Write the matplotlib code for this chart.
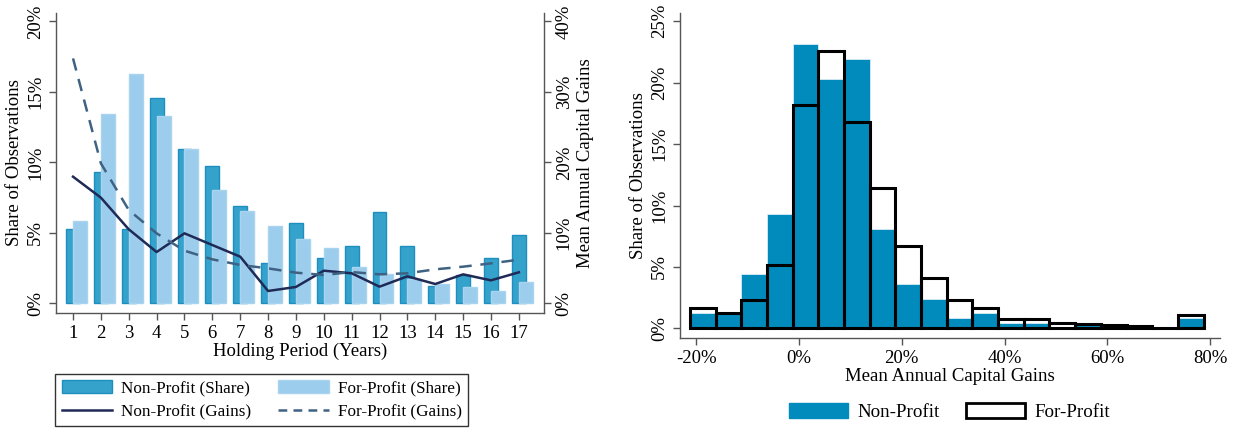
import numpy as np
import matplotlib
matplotlib.use("Agg")
import matplotlib.pyplot as plt
from matplotlib.patches import Patch
from matplotlib.lines import Line2D
from matplotlib.ticker import FuncFormatter

plt.rcParams['font.family'] = ['Liberation Serif', 'DejaVu Serif']
plt.rcParams['font.size'] = 13

# ---- Holding period panel data (percent) ----
years = list(range(1, 18))
np_share = [5.27, 9.31, 5.27, 14.59, 10.92, 9.74, 6.88, 2.84, 5.70, 3.24,
            4.07, 6.48, 4.07, 1.23, 2.0, 3.24, 4.85]
fp_share = [5.86, 13.45, 16.26, 13.31, 10.92, 8.06, 6.57, 5.48, 4.59, 3.92,
            2.58, 2.08, 1.70, 1.39, 1.18, 0.87, 1.51]
np_gains = [17.97, 14.99, 10.50, 7.28, 9.93, 8.27, 6.62, 1.75, 2.32, 4.63,
            4.26, 2.36, 3.83, 2.74, 4.11, 3.26, 4.40]
fp_gains = [34.75, 19.86, 13.24, 9.93, 7.47, 6.24, 5.44, 4.96, 4.35, 4.02,
            4.44, 4.11, 4.26, 4.82, 5.20, 5.67, 6.19]

# ---- Capital gains distribution panel data (percent) ----
bin_centers = [-18.75, -13.75, -8.75, -3.75, 1.25, 6.25, 11.25, 16.25, 21.25, 26.25,
               31.25, 36.25, 41.25, 46.25, 51.25, 56.25, 61.25, 66.25, 71.25, 76.25]
np_hist = [1.22, 1.22, 4.42, 9.31, 23.15, 20.30, 21.93, 8.09, 3.64, 2.39,
           0.81, 1.22, 0.41, 0.41, 0.08, 0.27, 0.13, 0.10, 0.02, 0.81]
fp_hist = [1.66, 1.22, 2.31, 5.16, 18.21, 22.56, 16.78, 11.40, 6.70, 4.13,
           2.33, 1.63, 0.73, 0.73, 0.41, 0.35, 0.24, 0.19, 0.05, 1.09]

C_DARK = '#35A2CC'
C_DARK_EDGE = '#1C8FC0'
C_LIGHT = '#9DCDED'
C_LIGHT_EDGE = '#A9D4EF'
C_NAVY = '#1F2A56'
C_STEEL = '#3F6283'
C_EB = '#008BBC'
SPINE = '#555555'
TICK_FS = 13.5
LABEL_FS = 13.5

pct = FuncFormatter(lambda v, p: f"{v:.0f}%")

fig = plt.figure(figsize=(12.41, 4.44), dpi=100)


def style_axis(ax, sides):
    for s in ['top', 'right', 'left', 'bottom']:
        ax.spines[s].set_visible(s in sides)
        ax.spines[s].set_color(SPINE)
        ax.spines[s].set_linewidth(1.0)
    ax.tick_params(colors='black', length=5, width=1.0, color=SPINE, labelsize=TICK_FS)


def rotate_yticks(ax):
    for lab in ax.get_yticklabels():
        lab.set_rotation(90)
        lab.set_va('center')


# ---- Left panel: shares by holding period with mean gains ----
ax1 = fig.add_axes([0.0449, 0.2957, 0.3934, 0.6757])
yrs = np.array(years)
ax1.bar(yrs, np_share, width=0.5, color=C_DARK, edgecolor=C_DARK_EDGE, linewidth=1.0, zorder=2)
ax1.bar(yrs + 0.25, fp_share, width=0.5, color=C_LIGHT, edgecolor=C_LIGHT_EDGE, linewidth=1.0, zorder=3)
ax1.set_xlim(0.379, 17.9)
ax1.set_ylim(-0.667, 20.62)
ax1.set_yticks([0, 5, 10, 15, 20])
ax1.yaxis.set_major_formatter(pct)
ax1.set_xticks(years)
style_axis(ax1, ['left', 'bottom'])
rotate_yticks(ax1)
ax1.set_ylabel('Share of Observations', fontsize=LABEL_FS, labelpad=3)
ax1.set_xlabel('Holding Period (Years)', fontsize=LABEL_FS, labelpad=1)
ax1.patch.set_visible(False)

ax2 = ax1.twinx()
ax2.set_ylim(-1.333, 41.24)
ax2.plot(yrs, np_gains, color=C_NAVY, lw=1.8, zorder=5)
ax2.plot(yrs, fp_gains, color=C_STEEL, lw=1.8, ls=(0, (5, 3.5)), zorder=5)
ax2.set_yticks([0, 10, 20, 30, 40])
ax2.yaxis.set_major_formatter(pct)
style_axis(ax2, ['right'])
rotate_yticks(ax2)
ax2.set_ylabel('Mean Annual Capital Gains', fontsize=LABEL_FS, labelpad=3)

handles1 = [Patch(facecolor=C_DARK, edgecolor=C_DARK_EDGE), Patch(facecolor=C_LIGHT, edgecolor=C_LIGHT_EDGE),
            Line2D([], [], color=C_NAVY, lw=1.8), Line2D([], [], color=C_STEEL, lw=1.8, ls=(0, (3.5, 2.5)))]
labels1 = ['Non-Profit (Share)', 'For-Profit (Share)', 'Non-Profit (Gains)', 'For-Profit (Gains)']
order = [0, 2, 1, 3]
leg1 = fig.legend([handles1[i] for i in order], [labels1[i] for i in order], ncol=2,
                  loc='center', bbox_to_anchor=(0.2108, 0.099), frameon=True, fancybox=False,
                  edgecolor='black', fontsize=12.3, handlelength=2.98, handleheight=0.8,
                  columnspacing=1.55, handletextpad=0.52, borderpad=0.38, labelspacing=0.4,
                  borderaxespad=0)
leg1.get_frame().set_linewidth(1.0)

# ---- Right panel: distribution of mean annual gains ----
ax3 = fig.add_axes([0.5479, 0.2381, 0.4352, 0.7333])
ax3.bar(bin_centers, np_hist, width=5, color=C_EB, edgecolor='#D7ECF4', linewidth=0.6, zorder=2)
ax3.bar(bin_centers, fp_hist, width=5, fill=False, edgecolor='black', linewidth=2.2, zorder=3)
ax3.set_xlim(-23.18, 81.95)
ax3.set_ylim(-0.81, 25.7)
ax3.set_xticks([-20, 0, 20, 40, 60, 80])
ax3.set_yticks([0, 5, 10, 15, 20, 25])
ax3.xaxis.set_major_formatter(pct)
ax3.yaxis.set_major_formatter(pct)
style_axis(ax3, ['left', 'bottom'])
rotate_yticks(ax3)
ax3.set_ylabel('Share of Observations', fontsize=LABEL_FS, labelpad=3)
ax3.set_xlabel('Mean Annual Capital Gains', fontsize=LABEL_FS, labelpad=1)

handles2 = [Patch(facecolor=C_EB, edgecolor=C_EB),
            Patch(facecolor='white', edgecolor='black', linewidth=2.0)]
fig.legend(handles2, ['Non-Profit', 'For-Profit'], ncol=2, loc='center',
           bbox_to_anchor=(0.765, 0.072), frameon=False, fontsize=13.7,
           handlelength=3.1, handleheight=0.85, columnspacing=1.4, handletextpad=0.5,
           borderaxespad=0)

fig.savefig('out.png', dpi=100)
